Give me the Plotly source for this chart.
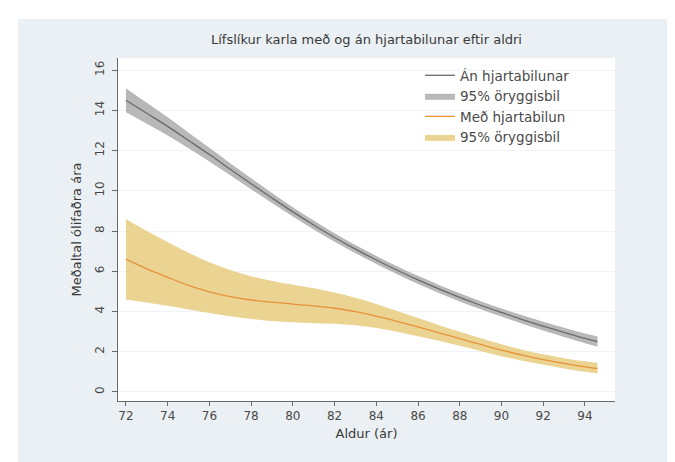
import plotly.graph_objects as go

# ---- data ----
age = [72, 73, 74, 75, 76, 77, 78, 79, 80, 81, 82, 83, 84, 85, 86, 87, 88, 89, 90, 91, 92, 93, 94, 94.6]

no_hf = [14.5, 13.85, 13.2, 12.5, 11.8, 11.07, 10.35, 9.64, 8.95, 8.3, 7.68, 7.1, 6.56, 6.05, 5.57, 5.12, 4.7, 4.31, 3.95, 3.6, 3.27, 2.96, 2.66, 2.5]
no_hf_lo = [13.9, 13.33, 12.75, 12.11, 11.46, 10.77, 10.08, 9.39, 8.72, 8.08, 7.47, 6.9, 6.36, 5.85, 5.37, 4.92, 4.5, 4.11, 3.75, 3.39, 3.05, 2.73, 2.42, 2.25]
no_hf_hi = [15.1, 14.37, 13.65, 12.89, 12.14, 11.37, 10.62, 9.89, 9.18, 8.52, 7.89, 7.3, 6.76, 6.25, 5.77, 5.32, 4.9, 4.51, 4.15, 3.81, 3.49, 3.19, 2.9, 2.75]

hf = [6.6, 6.12, 5.7, 5.3, 4.98, 4.74, 4.57, 4.46, 4.37, 4.28, 4.16, 3.99, 3.77, 3.51, 3.23, 2.94, 2.65, 2.36, 2.08, 1.83, 1.61, 1.42, 1.25, 1.16]
hf_lo = [4.6, 4.45, 4.28, 4.1, 3.92, 3.76, 3.63, 3.53, 3.46, 3.42, 3.39, 3.31, 3.18, 2.99, 2.77, 2.54, 2.3, 2.04, 1.78, 1.55, 1.35, 1.17, 1.0, 0.92]
hf_hi = [8.6, 8.0, 7.45, 6.92, 6.45, 6.06, 5.75, 5.52, 5.33, 5.15, 4.94, 4.68, 4.37, 4.02, 3.67, 3.32, 2.99, 2.67, 2.37, 2.1, 1.87, 1.68, 1.52, 1.45]

x_ticks = list(range(72, 95, 2))
y_ticks = list(range(0, 17, 2))

title_text = "Lífslíkur karla með og án hjartabilunar eftir aldri"
x_title = "Aldur (ár)"
y_title = "Meðaltal ólifaðra ára"
names = ["Án hjartabilunar", "95% öryggisbil", "Með hjartabilun", "95% öryggisbil"]

# ---- colours ----
GRAY_LINE = "#6a6a6a"
GRAY_BAND = "#b8b8b8"
ORANGE_LINE = "#e8923a"
ORANGE_BAND = "#ebd392"
BG = "#eaf0f3"
TXT = "#4a4a4a"
FONT = "DejaVu Sans, Verdana, sans-serif"

fig = go.Figure()

# grey band
fig.add_trace(go.Scatter(x=age, y=no_hf_lo, mode="lines", line=dict(width=0, color=GRAY_BAND, shape="spline"),
                         showlegend=False, hoverinfo="skip"))
fig.add_trace(go.Scatter(x=age, y=no_hf_hi, mode="lines", line=dict(width=0, color=GRAY_BAND, shape="spline"),
                         fill="tonexty", fillcolor=GRAY_BAND, name=names[1], legendrank=2))
# orange band
fig.add_trace(go.Scatter(x=age, y=hf_lo, mode="lines", line=dict(width=0, color=ORANGE_BAND, shape="spline"),
                         showlegend=False, hoverinfo="skip"))
fig.add_trace(go.Scatter(x=age, y=hf_hi, mode="lines", line=dict(width=0, color=ORANGE_BAND, shape="spline"),
                         fill="tonexty", fillcolor=ORANGE_BAND, name=names[3], legendrank=4))
# lines
fig.add_trace(go.Scatter(x=age, y=no_hf, mode="lines", line=dict(width=1.3, color=GRAY_LINE, shape="spline"),
                         name=names[0], legendrank=1))
fig.add_trace(go.Scatter(x=age, y=hf, mode="lines", line=dict(width=1.3, color=ORANGE_LINE, shape="spline"),
                         name=names[2], legendrank=3))

L, R, T, B = 110, 68, 50, 69
W, H = 675, 462
pw, ph = W - L - R, H - T - B

fig.update_layout(
    width=W, height=H,
    margin=dict(l=L, r=R, t=T, b=B, pad=0),
    paper_bgcolor=BG,
    plot_bgcolor="white",
    font=dict(family=FONT, size=12, color=TXT),
    title=dict(text=title_text, x=(L + pw / 2) / W, xanchor="center", y=1 - 31 / H, yanchor="middle",
               font=dict(size=13, color="#3a3a3a")),
    showlegend=True,
    legend=dict(x=(412 - L) / pw, y=(H - B - 52) / ph, xanchor="left", yanchor="top",
                bgcolor="rgba(255,255,255,0)", borderwidth=0, traceorder="normal",
                font=dict(family=FONT, size=13.5, color=TXT),
                tracegroupgap=0, itemwidth=30),
    shapes=[
        dict(type="rect", xref="paper", yref="paper", x0=-L / pw, x1=(10 - L) / pw, y0=-B / ph, y1=(H - B) / ph,
             fillcolor="white", line=dict(width=0), layer="below"),
        dict(type="rect", xref="paper", yref="paper", x0=-L / pw, x1=(W - L) / pw, y0=(H - B - 11) / ph, y1=(H - B) / ph,
             fillcolor="white", line=dict(width=0), layer="below"),
    ],
)

fig.update_xaxes(
    range=[71.62, 95.44], tickvals=x_ticks, ticktext=[str(v) for v in x_ticks],
    showline=True, linecolor="#6a6a6a", linewidth=1, mirror=False,
    ticks="outside", ticklen=4, tickcolor="#6a6a6a", showgrid=False, zeroline=False,
    tickfont=dict(size=12, color=TXT),
    title=dict(text=x_title, font=dict(size=13, color="#3a3a3a"), standoff=6),
)
fig.update_yaxes(
    range=[-0.45, 16.6], tickvals=y_ticks, ticktext=[str(v) for v in y_ticks],
    showline=True, linecolor="#6a6a6a", linewidth=1, mirror=False,
    ticks="outside", ticklen=5, tickcolor="#6a6a6a", tickangle=-90, ticklabelstandoff=3,
    showgrid=True, gridcolor="#eef3f5", gridwidth=1, zeroline=False,
    tickfont=dict(size=12, color=TXT),
    title=dict(text=y_title, font=dict(size=13, color="#3a3a3a"), standoff=8),
)

fig.write_html("out.html")
